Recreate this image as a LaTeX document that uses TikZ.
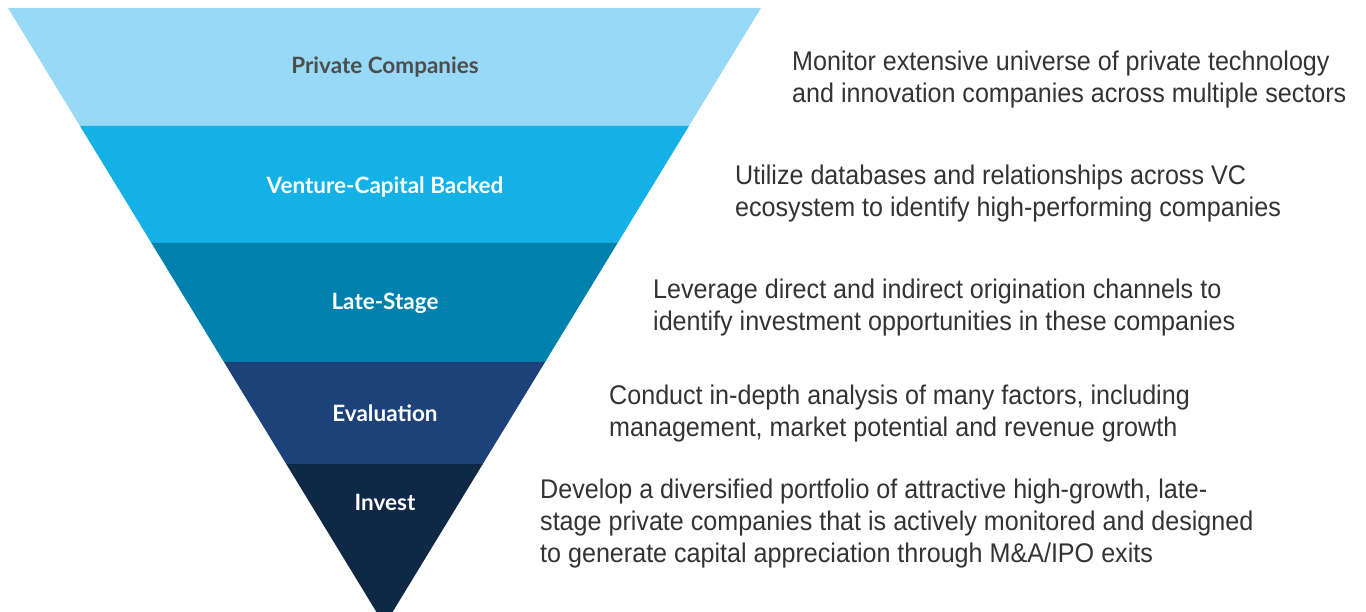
\documentclass[tikz,border=0pt]{standalone}
\usepackage{fontspec}
\setmainfont{Liberation Sans}
\newfontfamily\labfont{Lato}
\newfontfamily\descfont[FakeStretch=0.93]{Liberation Sans}
\definecolor{cA}{HTML}{97D9F6}
\definecolor{cB}{HTML}{14B1E7}
\definecolor{cC}{HTML}{0081AD}
\definecolor{cD}{HTML}{1D4279}
\definecolor{cE}{HTML}{0F2846}
\definecolor{labgray}{HTML}{4D4D4D}
\definecolor{desc}{HTML}{333333}
\begin{document}
\begin{tikzpicture}[x=1pt,y=-1pt,
  lab/.style={font=\labfont\bfseries\fontsize{22.5}{26}\selectfont, text=white, anchor=center},
  dsc/.style={font=\descfont\fontsize{27}{32}\selectfont, text=desc, anchor=west, align=left, inner sep=0pt}]
\useasboundingbox (0,0) rectangle (1366,612);
\begin{scope}
\clip (0,0) rectangle (1366,612);
\fill[cA] (8,8) -- (761,8) -- (689.0,126) -- (80.0,126) -- cycle;
\fill[cB] (80.0,126) -- (689.0,126) -- (617.6,243) -- (151.4,243) -- cycle;
\fill[cC] (151.4,243) -- (617.6,243) -- (545.1,362) -- (223.9,362) -- cycle;
\fill[cD] (223.9,362) -- (545.1,362) -- (482.8,464) -- (286.2,464) -- cycle;
\fill[cE] (286.2,464) -- (482.8,464) -- (384.5,625.2) -- cycle;
\end{scope}
\node[lab, text=labgray] (l1) at (385,67) {Private Companies};
\node[lab] (l2) at (385,187) {Venture-Capital Backed};
\node[lab] (l3) at (385,303) {Late-Stage};
\node[lab] (l4) at (385,413) {Evaluation};
\node[lab] (l5) at (385,502) {Invest};
\node[dsc] (d1) at (792,80) {Monitor extensive universe of private technology\\and innovation companies across multiple sectors};
\node[dsc] (d2) at (735,194) {Utilize databases and relationships across VC\\ecosystem to identify high-performing companies};
\node[dsc] (d3) at (653,308) {Leverage direct and indirect origination channels to\\identify investment opportunities in these companies};
\node[dsc] (d4) at (609,414) {Conduct in-depth analysis of many factors, including\\management, market potential and revenue growth};
\node[dsc] (d5) at (540,524) {Develop a diversified portfolio of attractive high-growth, late-\\stage private companies that is actively monitored and designed\\to generate capital appreciation through M\&A/IPO exits};
\end{tikzpicture}
\end{document}
